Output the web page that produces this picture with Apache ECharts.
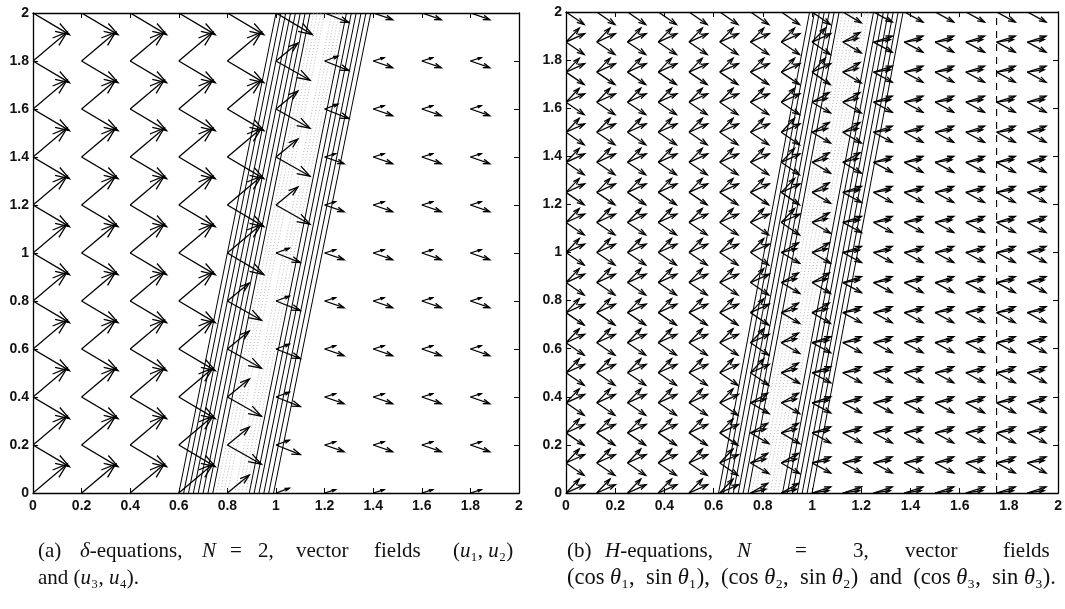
<!DOCTYPE html>
<html>
<head>
<meta charset="utf-8">
<script src="https://cdn.jsdelivr.net/npm/echarts@6/dist/echarts.min.js"></script>
<style>
html, body { margin: 0; padding: 0; background: #fff; }
#chart { width: 1065px; height: 609px; }
</style>
</head>
<body>
<div id="chart"></div>
<script>
// ---- panel (a): delta-equations, N = 2 ----
var leftColsX = [0, 0.2, 0.4, 0.6, 0.8, 1.0, 1.2, 1.4, 1.6, 1.8];
var leftRowsY = [2.0, 1.8, 1.6, 1.4, 1.2, 1.0, 0.8, 0.6, 0.4, 0.2, 0.0];
// arrow shape at each grid point, one letter per column
var leftCellType = [
    'AAAAAACDDD',
    'AAAAABCDDD',
    'AAAAABCDDD',
    'AAAAABDDDD',
    'AAAAABDDDD',
    'AAAAACDDDD',
    'AAAABCDDDD',
    'AAAABCDDDD',
    'AAAABCDDDD',
    'AAAABCDDDD',
    'AAAABCDDDD'
];
// (u1,u2) and (u3,u4) for each shape
var leftVecA = [[0.14, 0.12], [0.15, -0.09]];
var leftVecB = [[0.09, 0.075], [0.14, -0.08]];
var leftVecC = [[0.055, 0.02], [0.10, -0.04]];
var leftVecD = [[0.045, 0.014], [0.08, -0.028]];
// contour lines, x at y = 0 and at y = 2
var leftSolidBottom = [0.60, 0.62, 0.64, 0.66, 0.68, 0.70, 0.72, 0.74, 0.89, 0.91, 0.93, 0.95, 0.97, 0.99];
var leftSolidTop    = [1.00, 1.02, 1.04, 1.06, 1.08, 1.10, 1.12, 1.14, 1.29, 1.31, 1.33, 1.35, 1.37, 1.39];
var leftDotBottom = [0.755, 0.77, 0.785, 0.80, 0.83, 0.845, 0.86, 0.875];
var leftDotTop    = [1.155, 1.17, 1.185, 1.20, 1.23, 1.245, 1.26, 1.275];

// ---- panel (b): H-equations, N = 3 ----
var rightColsX = [0, 0.125, 0.25, 0.375, 0.5, 0.625, 0.75, 0.875, 1.0, 1.125, 1.25, 1.375, 1.5, 1.625, 1.75, 1.875];
var rightRowsY = [2.0, 1.875, 1.75, 1.625, 1.5, 1.375, 1.25, 1.125, 1.0, 0.875, 0.75, 0.625, 0.5, 0.375, 0.25, 0.125, 0.0];
var rightCellType = [
    'PPPPPPPPPQRRRRRR',
    'PPPPPPPPPQRRRRRR',
    'PPPPPPPPPQRRRRRR',
    'PPPPPPPPQQRRRRRR',
    'PPPPPPPPQQRRRRRR',
    'PPPPPPPPQQRRRRRR',
    'PPPPPPPPQRRRRRRR',
    'PPPPPPPPQRRRRRRR',
    'PPPPPPPQQRRRRRRR',
    'PPPPPPPQQRRRRRRR',
    'PPPPPPPQQRRRRRRR',
    'PPPPPPPQRRRRRRRR',
    'PPPPPPPQRRRRRRRR',
    'PPPPPPQQRRRRRRRR',
    'PPPPPPQQRRRRRRRR',
    'PPPPPPQQRRRRRRRR',
    'PPPPPPQQRRRRRRRR'
];
var rightVecP = [[0.054, 0.058], [0.076, 0.035], [0.074, -0.052]];
var rightVecQ = [[0.07, 0.04], [0.062, 0.016], [0.075, -0.045]];
var rightVecR = [[0.076, 0.025], [0.068, 0.01], [0.076, -0.042]];
var rightSolidBottom = [0.62, 0.64, 0.66, 0.68, 0.70, 0.72, 0.74, 0.88, 0.90, 0.92, 0.94, 0.96, 0.98, 1.00];
var rightSolidTop    = [0.99, 1.01, 1.03, 1.05, 1.07, 1.09, 1.11, 1.25, 1.27, 1.29, 1.31, 1.33, 1.35, 1.37];
var rightDotBottom = [0.755, 0.77, 0.785, 0.80, 0.815, 0.83, 0.845, 0.86];
var rightDotTop    = [1.125, 1.14, 1.155, 1.17, 1.185, 1.20, 1.215, 1.23];
var rightDashX = 1.75;

// caption words (justified lines are placed word by word)
var capLeftLine1 = [
    [38, '{n|(a)}'], [80, '{i|δ}{n|-equations,}'], [202, '{i|N}'], [230, '{n|=}'], [258, '{n|2,}'],
    [296, '{n|vector}'], [374, '{n|fields}'], [453, '{n|(}{i|u}{n|₁, }{i|u}{n|₂)}']
];
var capLeftLine2 = [[38, '{n|and (}{i|u}{n|₃, }{i|u}{n|₄).}']];
var capRightLine1 = [
    [567, '{n|(b)}'], [605, '{i|H}{n|-equations,}'], [737, '{i|N}'], [795, '{n|=}'], [853, '{n|3,}'],
    [905, '{n|vector}'], [1003, '{n|fields}']
];
var capRightLine2 = [
    [567, '{w|(cos }{j|θ}{w|₁,  sin }{j|θ}{w|₁),  (cos }{j|θ}{w|₂,  sin }{j|θ}{w|₂)  and  (cos }{j|θ}{w|₃,  sin }{j|θ}{w|₃).}']
];

var tickLabelFont = 'Liberation Sans';
var captionFont = 'Liberation Serif';
var captionSize = 21;

function buildArrows(cols, rows, cells, shapes) {
    var out = [];
    for (var r = 0; r < rows.length; r++) {
        for (var c = 0; c < cols.length; c++) {
            var vecs = shapes[cells[r].charAt(c)];
            for (var k = 0; k < vecs.length; k++) {
                out.push([cols[c], rows[r], vecs[k][0], vecs[k][1]]);
            }
        }
    }
    return out;
}

function pairLines(bottom, top) {
    return bottom.map(function (b, i) { return [b, top[i]]; });
}

var leftArrows = buildArrows(leftColsX, leftRowsY, leftCellType, { A: leftVecA, B: leftVecB, C: leftVecC, D: leftVecD });
var rightArrows = buildArrows(rightColsX, rightRowsY, rightCellType, { P: rightVecP, Q: rightVecQ, R: rightVecR });

// quiver style arrow: shaft + two head strokes
function renderArrow(params, api) {
    var x = api.value(0), y = api.value(1), u = api.value(2), v = api.value(3);
    var p0 = api.coord([x, y]);
    var p1 = api.coord([x + u, y + v]);
    var dx = p1[0] - p0[0], dy = p1[1] - p0[1];
    var a = 0.33, b = 0.33;
    var h1 = [p1[0] - a * (dx + b * dy), p1[1] - a * (dy - b * dx)];
    var h2 = [p1[0] - a * (dx - b * dy), p1[1] - a * (dy + b * dx)];
    var st = { stroke: '#000', lineWidth: 1.3, fill: null };
    return {
        type: 'group',
        children: [
            { type: 'polyline', shape: { points: [p0, p1] }, style: st },
            { type: 'polyline', shape: { points: [h1, p1, h2] }, style: st }
        ]
    };
}

function lineRenderer(color, width, dash) {
    return function (params, api) {
        var p0 = api.coord([api.value(0), 0]);
        var p1 = api.coord([api.value(1), 2]);
        return {
            type: 'line',
            shape: { x1: p0[0], y1: p0[1], x2: p1[0], y2: p1[1] },
            style: { stroke: color, lineWidth: width, lineDash: dash }
        };
    };
}

function axisX(gridIndex, pos) {
    return {
        type: 'value', gridIndex: gridIndex, position: pos, min: 0, max: 2, interval: 0.2,
        axisLine: { show: true, onZero: false, lineStyle: { color: '#000', width: 1.3 } },
        axisTick: { show: true, inside: true, length: 5, lineStyle: { color: '#000' } },
        axisLabel: pos === 'bottom' ? { show: true, color: '#111', fontFamily: tickLabelFont, fontWeight: 'bold', fontSize: 14, margin: 6 } : { show: false },
        splitLine: { show: false }
    };
}
function axisY(gridIndex, pos) {
    return {
        type: 'value', gridIndex: gridIndex, position: pos, min: 0, max: 2, interval: 0.2,
        axisLine: { show: true, onZero: false, lineStyle: { color: '#000', width: 1.3 } },
        axisTick: { show: true, inside: true, length: 5, lineStyle: { color: '#000' } },
        axisLabel: pos === 'left' ? { show: true, color: '#111', fontFamily: tickLabelFont, fontWeight: 'bold', fontSize: 14, margin: 4 } : { show: false },
        splitLine: { show: false }
    };
}

var captionRich = {
    n: { fontFamily: captionFont, fontSize: captionSize, fill: '#111' },
    i: { fontFamily: captionFont, fontSize: captionSize, fontStyle: 'italic', fill: '#111' },
    // slightly wider set for the last line of caption (b)
    w: { fontFamily: captionFont, fontSize: 22.5, fill: '#111' },
    j: { fontFamily: captionFont, fontSize: 22.5, fontStyle: 'italic', fill: '#111' }
};
function captionItems(words, top) {
    return words.map(function (w) {
        return { type: 'text', left: w[0], top: top, style: { text: w[1], rich: captionRich } };
    });
}

var chart = echarts.init(document.getElementById('chart'), null, { renderer: 'canvas' });

chart.setOption({
    backgroundColor: '#fff',
    animation: false,
    grid: [
        { left: 33, right: 546, top: 13, bottom: 116 },
        { left: 566, right: 3, top: 12, bottom: 116 }
    ],
    xAxis: [axisX(0, 'bottom'), axisX(0, 'top'), axisX(1, 'bottom'), axisX(1, 'top')],
    yAxis: [axisY(0, 'left'), axisY(0, 'right'), axisY(1, 'left'), axisY(1, 'right')],
    series: [
        { type: 'custom', xAxisIndex: 0, yAxisIndex: 0, clip: true, renderItem: lineRenderer('#aaa', 0.8, [1, 2]), data: pairLines(leftDotBottom, leftDotTop) },
        { type: 'custom', xAxisIndex: 0, yAxisIndex: 0, clip: true, renderItem: lineRenderer('#000', 1, null), data: pairLines(leftSolidBottom, leftSolidTop) },
        { type: 'custom', xAxisIndex: 0, yAxisIndex: 0, clip: true, renderItem: renderArrow, data: leftArrows },
        { type: 'custom', xAxisIndex: 2, yAxisIndex: 2, clip: true, renderItem: lineRenderer('#aaa', 0.8, [1, 2]), data: pairLines(rightDotBottom, rightDotTop) },
        { type: 'custom', xAxisIndex: 2, yAxisIndex: 2, clip: true, renderItem: lineRenderer('#000', 1, null), data: pairLines(rightSolidBottom, rightSolidTop) },
        { type: 'custom', xAxisIndex: 2, yAxisIndex: 2, clip: true, renderItem: lineRenderer('#000', 1.1, [7, 6]), data: [[rightDashX, rightDashX]] },
        { type: 'custom', xAxisIndex: 2, yAxisIndex: 2, clip: true, renderItem: renderArrow, data: rightArrows }
    ],
    graphic: [].concat(
        captionItems(capLeftLine1, 541),
        captionItems(capLeftLine2, 568),
        captionItems(capRightLine1, 541),
        captionItems(capRightLine2, 567)
    )
});
</script>
</body>
</html>
